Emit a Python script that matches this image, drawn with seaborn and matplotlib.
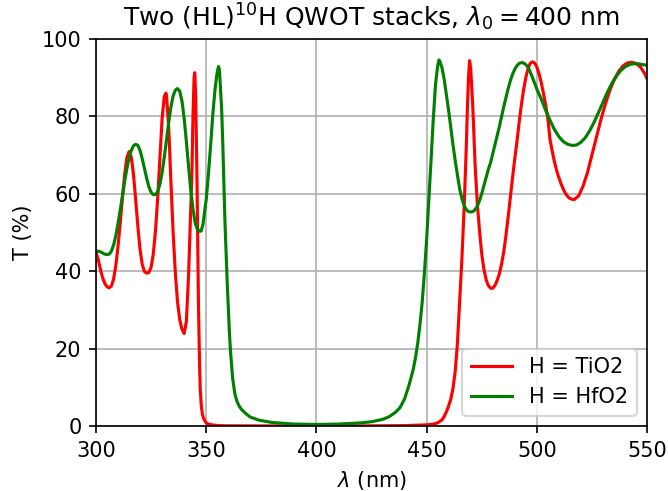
import numpy as np
import pandas as pd
import matplotlib
matplotlib.use("Agg")
import matplotlib.pyplot as plt
import seaborn as sns

# H = TiO2 stack (wavelength nm, transmittance %)
tio2_wl = [300, 301, 302, 303, 304, 305, 306, 307, 308, 309, 310, 311, 312, 313, 314, 315, 316, 317, 318, 319,
           320, 321, 322, 323, 324, 325, 326, 327, 328, 329, 330, 331, 331.7, 332, 333, 334, 335, 336, 337, 338,
           339, 340, 341, 342, 343, 343.5, 344, 344.5, 344.8, 345.2, 345.8, 346.2, 346.5, 347, 347.3, 347.8, 348.3,
           348.8, 349.5, 350, 351, 353, 356, 360, 380, 400, 420, 440, 450, 453, 455, 457, 458, 459, 460, 461, 462,
           463, 464, 465, 466, 467, 468, 468.5, 469, 469.5, 470, 471, 472, 473, 474, 475, 476, 477, 478, 479, 480,
           481, 482, 483, 484, 485, 486, 487, 488, 489, 490, 491, 492, 493, 494, 495, 496, 497, 498, 499, 500,
           501, 502, 503, 504, 505, 506, 507, 508, 509, 510, 511, 512, 513, 514, 515, 516, 517, 519, 521, 523,
           525, 527, 529, 531, 533, 535, 537, 539, 541, 543, 545, 547, 549, 550]
tio2_T = [45, 43, 40.5, 38.3, 36.8, 36.0, 35.7, 36.2, 38, 41.5, 46.5, 52.5, 59, 65, 69.3, 70.9, 69.5, 65, 58.5, 51.5,
          45.5, 41.7, 39.9, 39.5, 39.7, 41, 44.5, 50.5, 59, 69.5, 79.5, 85.2, 86, 85.5, 77, 63, 50, 39.5, 32, 27.5,
          25, 23.9, 27, 39, 56, 65, 80, 90, 91.3, 86, 65, 45, 31, 15.5, 9.5, 5, 3,
          2, 1.2, 0.8, 0.5, 0.25, 0.1, 0.05, 0.02, 0.02, 0.03, 0.1, 0.3, 0.5, 0.8, 1.6, 2.5, 3.7, 5.2, 7, 9.8,
          14.2, 21.5, 32, 43, 56, 72, 82, 90, 94.4, 92.5, 82, 67.5, 57.5, 50.5, 44.5, 40.5, 37.8, 36.3, 35.6, 35.6,
          36.3, 37.6, 39.3, 41.8, 45, 49.2, 54, 59.2, 64.2, 69, 73.5, 78.5, 83, 86.8, 90, 92.3, 93.7, 94.1, 93.8, 92.8,
          91, 88.8, 86, 83, 79.5, 74, 71, 68.3, 66, 64.2, 62.6, 61.2, 60.1, 59.3, 58.8, 58.6, 58.5, 59.5, 62, 65.5,
          70, 74.5, 79, 83, 86.5, 89.3, 91.5, 93, 93.8, 94, 93.7, 92.8, 91, 89.8]

# H = HfO2 stack
hfo2_wl = [300, 301, 302, 303, 304, 305, 306, 307, 308, 309, 310, 311, 312, 313, 314, 315, 316, 317, 318, 319,
           320, 321, 322, 323, 324, 325, 326, 327, 328, 329, 330, 331, 332, 333, 334, 335, 336, 337, 338, 339,
           340, 341, 342, 343, 344, 345, 346, 347, 347.7, 348.5, 349, 350, 351, 352, 353, 354, 355, 355.6, 356, 357,
           357.5, 358, 358.5, 359, 359.5, 360, 360.5, 361, 362, 363, 364, 365, 366, 368, 370, 374, 380, 390, 400, 410,
           420, 425, 430, 433, 436, 438, 440, 442, 444, 445, 446, 447, 448, 449, 450, 451, 452, 453, 454, 455,
           455.6, 456, 457, 458, 459, 460, 461, 462, 463, 464, 465, 466, 467, 468, 469, 470, 471, 472, 473, 474,
           475, 476, 477, 478, 479, 480, 481, 482, 483, 484, 485, 486, 487, 488, 489, 490, 491, 492, 493, 494,
           495, 496, 497, 498, 499, 500, 502, 504, 506, 508, 510, 512, 514, 516, 518, 520, 522, 524, 526, 528,
           530, 532, 534, 536, 538, 540, 542, 544, 546, 548, 550]
hfo2_T = [45.0, 45.2, 45, 44.7, 44.4, 44.3, 44.4, 45.2, 46.8, 49.2, 52.3, 55.8, 59.5, 63.2, 66.5, 69.3, 71.2, 72.4, 72.8, 72.5,
          71.2, 69, 66.5, 64, 61.8, 60.4, 59.8, 59.8, 60.6, 62.5, 65.5, 69.5, 74, 78.5, 82.5, 85.3, 86.8, 87.2, 86.5, 84,
          79.5, 73.5, 67, 61, 56, 52.5, 50.8, 50.3, 50.4, 52, 54.2, 58.5, 65, 72.5, 80.5, 87, 91.5, 92.9, 92, 82,
          73.5, 63, 53, 45, 37.5, 31, 24.5, 19.5, 12.3, 8.3, 6.3, 5.1, 4.3, 3.2, 2.3, 1.5, 0.9, 0.5, 0.4, 0.5,
          0.8, 1.1, 1.7, 2.4, 3.6, 4.8, 7.0, 10.5, 14.8, 17.8, 21.5, 26.3, 32, 39.5, 48, 58, 68.5, 79, 88, 93,
          94.6, 94.3, 92.5, 89.5, 85.5, 81.5, 77, 72.5, 68.5, 64.8, 61.3, 58.8, 57, 55.9, 55.4, 55.3, 55.4, 55.9, 56.8, 58.2,
          60, 62.1, 64.3, 66.3, 68, 70.3, 72.5, 74.8, 77.3, 79.9, 82.5, 84.9, 87.2, 89.2, 90.9, 92.2, 93.1, 93.7, 93.9, 93.8,
          93.4, 92.7, 91.5, 90.1, 88.6, 87.1, 84.5, 81.6, 79, 76.6, 74.8, 73.5, 72.8, 72.5, 72.6, 73.3, 74.5, 76.3, 78.5, 81,
          83.6, 86.2, 88.5, 90.3, 91.8, 92.8, 93.4, 93.6, 93.6, 93.4, 93.2]

labels = ["H = TiO2", "H = HfO2"]
x_ticks = [300, 350, 400, 450, 500, 550]
y_ticks = [0, 20, 40, 60, 80, 100]

fig = plt.figure(figsize=(668 / 150, 491 / 150), dpi=150)
ax = fig.add_axes([96 / 668, 1 - 426 / 491, (647 - 96) / 668, (426 - 39) / 491])

df1 = pd.DataFrame({"wl": tio2_wl, "T": tio2_T})
df2 = pd.DataFrame({"wl": hfo2_wl, "T": hfo2_T})
sns.lineplot(data=df1, x="wl", y="T", ax=ax, color="red", lw=1.5, label=labels[0], sort=True)
sns.lineplot(data=df2, x="wl", y="T", ax=ax, color="green", lw=1.5, label=labels[1], sort=True)

ax.set_xlim(300, 550)
ax.set_ylim(0, 100)
ax.set_xticks(x_ticks)
ax.set_yticks(y_ticks)
ax.grid(True)
ax.set_xlabel(r"$\lambda$ (nm)")
ax.set_ylabel("T (%)")
ax.set_title(r"Two (HL)$^{10}$H QWOT stacks, $\lambda_0 = 400$ nm")
ax.legend(loc="lower right")

fig.savefig("out.png", dpi=150)
